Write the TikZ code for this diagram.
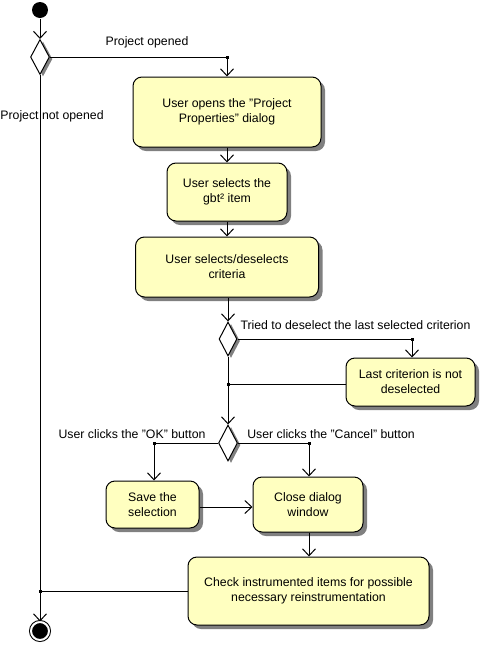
\documentclass[tikz,border=0pt]{standalone}
\usepackage{fontspec}
\setmainfont{Liberation Sans}
\usetikzlibrary{shapes.geometric,shadows,arrows.meta}
\definecolor{actfill}{RGB}{255,255,192}
\begin{document}
\begin{tikzpicture}[x=1pt,y=-1pt,line width=1pt,font=\fontsize{12.3}{15}\selectfont]
	\tikzset{act/.style={draw,rectangle,rounded corners=9pt,fill=actfill,align=center,inner sep=0pt,drop shadow={shadow xshift=4pt,shadow yshift=-4pt,fill=gray,opacity=1}}}
	\tikzset{branch/.style={draw,diamond,fill=white,inner sep=0pt,drop shadow={shadow xshift=3pt,shadow yshift=-2pt,fill=gray,opacity=1}}}
	\tikzset{junc/.style={fill,rectangle,inner sep=0pt,minimum size=3pt}}
	\tikzset{flow/.style={-{Straight Barb[length=7pt,width=13pt]}}}
	\tikzset{lbl/.style={inner sep=0pt}}
	\useasboundingbox (0,0) rectangle (490,654);
	\node[circle,fill,minimum size=16pt,inner sep=0pt] (start) at (40,10) {};
	\node[branch,minimum width=19pt,minimum height=35pt] (d1) at (40,57) {};
	\node[act,minimum width=188pt,minimum height=70pt] (b1) at (227,112) {User opens the "Project\\Properties" dialog};
	\node[act,minimum width=120pt,minimum height=58pt] (b2) at (227,192) {User selects the\\gbt² item};
	\node[act,minimum width=183pt,minimum height=60pt] (b3) at (227,267) {User selects/deselects\\criteria};
	\node[branch,minimum width=18pt,minimum height=34pt] (d2) at (228,339) {};
	\node[act,minimum width=129pt,minimum height=48pt] (b4) at (410.5,382) {Last criterion is not\\deselected};
	\node[branch,minimum width=19pt,minimum height=36pt] (d3) at (228,443) {};
	\node[act,minimum width=93pt,minimum height=47pt] (b5) at (152.5,504.5) {Save the\\selection};
	\node[act,minimum width=110pt,minimum height=55pt] (b6) at (308,504.5) {Close dialog\\window};
	\node[act,minimum width=241pt,minimum height=68pt] (b7) at (308.5,591) {Check instrumented items for possible\\necessary reinstrumentation};
	\node[circle,draw,fill,double=white,double distance=2pt,minimum size=18pt,inner sep=0pt] (final) at (40,631) {};
	\node[junc] (j1) at (227,57) {};
	\node[junc] (j2) at (412,339) {};
	\node[junc] (j3) at (228,384) {};
	\node[junc] (j4) at (154,443) {};
	\node[junc] (j5) at (309,443) {};
	\node[junc] (j6) at (40,591) {};
	\node[lbl] (lopen) at (147,42) {Project opened};
	\node[lbl] (lnot) at (52,116) {Project not opened};
	\node[lbl,anchor=west] (ltried) at (240,325) {Tried to deselect the last selected criterion};
	\node[lbl] (lok) at (132,434) {User clicks the "OK" button};
	\node[lbl] (lcancel) at (331,434) {User clicks the "Cancel" button};
	\draw[flow] (start) -- (d1);
	\draw (d1.east) -- (j1.center);
	\draw[flow] (j1.center) -- (b1);
	\draw[flow] (d1.south) -- (final);
	\draw[flow] (b1) -- (b2);
	\draw[flow] (b2) -- (b3);
	\draw[flow] (b3.south -| d2) -- (d2);
	\draw (d2.east) -- (j2.center);
	\draw[flow] (j2.center) -- (j2.center |- b4.north);
	\draw (b4.west |- j3) -- (j3.center);
	\draw[flow] (d2.south) -- (d3.north);
	\draw (d3.west) -- (j4.center);
	\draw[flow] (j4.center) -- (j4.center |- b5.north);
	\draw (d3.east) -- (j5.center);
	\draw[flow] (j5.center) -- (j5.center |- b6.north);
	\draw[flow] (b5.east |- 0,507) -- (b6.west |- 0,507);
	\draw[flow] (b6.south -| j5) -- (b7.north -| j5);
	\draw (b7.west) -- (j6.center);
\end{tikzpicture}
\end{document}
